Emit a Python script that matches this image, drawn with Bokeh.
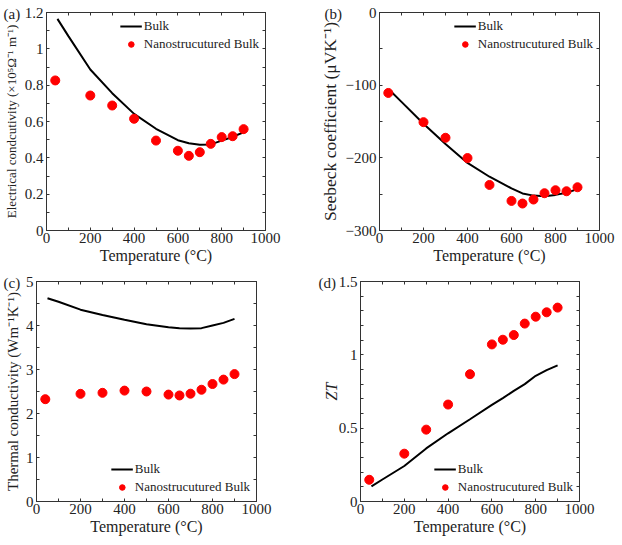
from bokeh.plotting import figure
from bokeh.layouts import row, column
from bokeh.models import LinearAxis, FixedTicker, Legend, LegendItem, Range1d, Title
from bokeh.embed import file_html
from bokeh.resources import INLINE

# ---------------- data ----------------
temp_line = [50, 100, 200, 300, 400, 500, 600, 650, 700, 750, 800, 850, 900]
temp_pts = [40, 200, 300, 400, 500, 600, 650, 700, 750, 800, 850, 900]

sigma_bulk = [1.165, 1.07, 0.886, 0.756, 0.642, 0.56, 0.497, 0.48, 0.472, 0.474, 0.495, 0.515, 0.541]
sigma_nano = [0.826, 0.743, 0.688, 0.615, 0.495, 0.439, 0.411, 0.431, 0.477, 0.514, 0.519, 0.558]

seebeck_bulk = [-108, -123, -153, -181, -207, -226, -242, -249, -252, -253, -251, -248, -243]
seebeck_nano = [-110.7, -150.9, -172.4, -200.3, -237.3, -259.3, -262.9, -257.4, -248.7, -244.6, -246, -240.5]

kappa_bulk = [4.62, 4.54, 4.36, 4.24, 4.13, 4.03, 3.96, 3.94, 3.93, 3.94, 4.0, 4.06, 4.15]
kappa_nano = [2.325, 2.447, 2.47, 2.52, 2.5, 2.43, 2.41, 2.45, 2.54, 2.67, 2.77, 2.895]

zt_bulk = [0.103, 0.15, 0.242, 0.362, 0.465, 0.561, 0.659, 0.705, 0.754, 0.80, 0.857, 0.896, 0.928]
zt_nano = [0.148, 0.326, 0.49, 0.661, 0.868, 1.071, 1.103, 1.135, 1.213, 1.26, 1.29, 1.322]

x_ticks = [0, 200, 400, 600, 800, 1000]
x_minor = [100, 300, 500, 700, 900]

a_ticks = [0, 0.2, 0.4, 0.6, 0.8, 1.0, 1.2]
a_labels = ["0", "0.2", "0.4", "0.6", "0.8", "1", "1.2"]
a_minor = [0.1, 0.3, 0.5, 0.7, 0.9, 1.1]

b_ticks = [-300, -200, -100, 0]
b_labels = ["\u2212300", "\u2212200", "\u2212100", "0"]
b_minor = [-250, -150, -50]

c_ticks = [0, 1, 2, 3, 4, 5]
c_labels = ["0", "1", "2", "3", "4", "5"]
c_minor = [0.5, 1.5, 2.5, 3.5, 4.5]

d_ticks = [0, 0.5, 1.0, 1.5]
d_labels = ["0", "0.5", "1", "1.5"]
d_minor = [0.1, 0.2, 0.3, 0.4, 0.6, 0.7, 0.8, 0.9, 1.1, 1.2, 1.3, 1.4]

FONT = "Liberation Serif"
AX = "#333333"


def style_axis(ax):
    ax.axis_line_color = AX
    ax.major_tick_line_color = AX
    ax.minor_tick_line_color = AX
    ax.major_tick_in = 3
    ax.major_tick_out = 0
    ax.minor_tick_in = 3
    ax.minor_tick_out = 0
    ax.major_label_text_font = FONT
    ax.major_label_text_color = "#222222"
    ax.major_label_text_font_size = "15px"
    ax.axis_label_text_font = FONT
    ax.axis_label_text_font_style = "normal"
    ax.axis_label_text_color = "#222222"
    ax.axis_label_text_font_size = "16px"


def panel(w, h, bl, br, bt, bb, yr, yt, ylab, ymin, ylabel, ysize, ystyle,
          ybulk, ynano, letter, letter_dx, legend_loc, yl_standoff):
    title = Title(text=letter, align="left", offset=letter_dx, standoff=-18,
                  vertical_align="bottom", text_font=FONT, text_font_size="15px",
                  text_font_style="normal", text_color="#222222")
    p = figure(width=w, height=h, min_border_left=bl, min_border_right=br,
               min_border_top=bt, min_border_bottom=bb, title=title,
               x_range=Range1d(0, 1000), y_range=Range1d(*yr),
               output_backend="svg", toolbar_location=None)
    p.xgrid.visible = False
    p.ygrid.visible = False
    p.outline_line_color = AX
    p.background_fill_color = "white"
    p.border_fill_color = "white"

    p.xaxis.ticker = FixedTicker(ticks=x_ticks, minor_ticks=x_minor)
    p.yaxis.ticker = FixedTicker(ticks=yt, minor_ticks=ymin)
    p.yaxis.major_label_overrides = {t: l for t, l in zip(yt, ylab)}
    p.xaxis.axis_label = "Temperature (\u00b0C)"
    p.yaxis.axis_label = ylabel
    for ax in p.xaxis:
        style_axis(ax)
        ax.major_label_standoff = 2
        ax.axis_label_standoff = 1
    for ax in p.yaxis:
        style_axis(ax)
        ax.major_label_standoff = 3
        ax.axis_label_standoff = yl_standoff
        ax.axis_label_text_font_size = ysize
        ax.axis_label_text_font_style = ystyle

    # mirrored tick marks (no labels): all positions drawn as minor ticks
    top = LinearAxis(ticker=FixedTicker(ticks=[], minor_ticks=x_ticks + x_minor))
    style_axis(top)
    p.add_layout(top, "above")
    right = LinearAxis(ticker=FixedTicker(ticks=[], minor_ticks=yt + ymin))
    style_axis(right)
    p.add_layout(right, "right")

    ln = p.line(temp_line, ybulk, line_color="black", line_width=2)
    sc = p.scatter(temp_pts, ynano, marker="circle", size=9,
                   fill_color="#ff0000", line_color="#ff0000")

    leg = Legend(items=[LegendItem(label="Bulk", renderers=[ln]),
                        LegendItem(label="Nanostrucutured Bulk", renderers=[sc])],
                 location=legend_loc)
    leg.border_line_alpha = 0
    leg.background_fill_alpha = 0
    leg.label_text_font = FONT
    leg.label_text_font_size = "13px"
    leg.label_text_color = "#222222"
    leg.glyph_width = 22
    leg.glyph_height = 14
    leg.label_height = 14
    leg.label_standoff = 2
    leg.spacing = 2
    leg.padding = 3
    leg.margin = 3
    p.add_layout(leg)
    return p


pa = panel(311, 272, 46, 46, 12, 42, (0, 1.2), a_ticks, a_labels, a_minor,
           "Electrical condcutivity (\u00d710\u2075\u03a9\u207b\u00b9 m\u207b\u00b9)",
           "13px", "normal", sigma_bulk, sigma_nano, "(a)", -43, "top_right", 3)
pb = panel(311, 272, 68, 23, 12, 41, (-300, 0), b_ticks, b_labels, b_minor,
           "Seebeck coefficient (\u03bcVK\u207b\u00b9)",
           "17.5px", "normal", seebeck_bulk, seebeck_nano, "(b)", -55, "top_right", 3)
pc = panel(311, 273, 36, 55, 9, 44, (0, 5), c_ticks, c_labels, c_minor,
           "Thermal conductivity (Wm\u207b\u00b9K\u207b\u00b9)",
           "15px", "normal", kappa_bulk, kappa_nano, "(c)", -33, "bottom_right", 2)
pd = panel(311, 273, 49, 43, 9, 44, (0, 1.5), d_ticks, d_labels, d_minor,
           "ZT", "16px", "italic", zt_bulk, zt_nano, "(d)", -42, "bottom_right", -4)

layout = column(row(pa, pb), row(pc, pd))
open("out.html", "w").write(file_html(layout, INLINE))
